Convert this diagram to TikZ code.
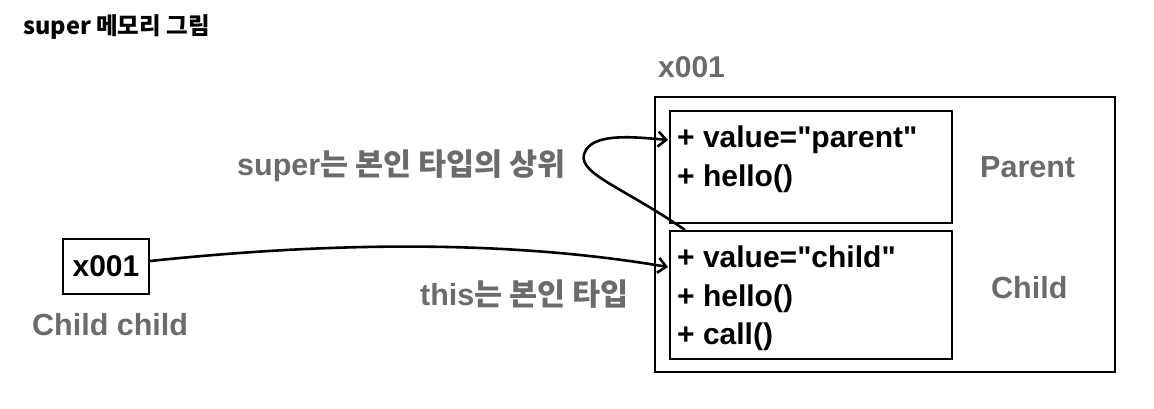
\documentclass[tikz,border=0pt]{standalone}
\usepackage{fontspec}
\setmainfont{Liberation Sans}[Ligatures=TeXOff]
\newfontfamily\kr{Noto Sans CJK KR}
\usetikzlibrary{arrows.meta,calc}
\definecolor{lblgray}{HTML}{6B6B6B}
\begin{document}
\begin{tikzpicture}[x=1pt,y=-1pt,
  box/.style={draw=black, line width=2pt, inner sep=0pt, anchor=north west},
  mem/.style={anchor=base west, inner sep=0pt, font=\fontsize{30}{30}\selectfont\bfseries, text=black},
  lbl/.style={anchor=base west, inner sep=0pt, font=\fontsize{30.5}{30.5}\selectfont\bfseries, text=lblgray},
  conn/.style={line width=2.6pt, -{Straight Barb[length=8pt,width=15pt]}}]
\useasboundingbox[fill=white] (0,0) rectangle (1154,408);
% title
\node[anchor=base west, inner sep=0pt, font=\kr\bfseries\fontsize{23.5}{23.5}\selectfont] (title) at (23,34) {super 메모리 그림};
% memory area
\node[lbl, font=\fontsize{30}{30}\selectfont\bfseries] (addr) at (658,77) {x001};
\node[box, minimum width=460pt, minimum height=275pt] (outer) at (654,96) {};
\node[box, minimum width=282pt, minimum height=112pt] (parent) at (669,110) {};
\node[box, minimum width=282pt, minimum height=128pt] (child) at (669,230) {};
\node[mem] (p1) at (677,147) {+ value="parent"};
\node[mem] (p2) at (677,186) {+ hello()};
\node[mem] (c1) at (677,267) {+ value="child"};
\node[mem] (c2) at (677,306) {+ hello()};
\node[mem] (c3) at (677,344) {+ call()};
\node[lbl] (plbl) at (980,177) {Parent};
\node[lbl] (clbl) at (991,298) {Child};
% reference
\node[box, minimum width=86pt, minimum height=55pt] (ref) at (62,238) {};
\node[font=\fontsize{30}{30}\selectfont\bfseries, inner sep=0pt] (reftxt) at (ref.center) {x001};
\node[lbl] (reflbl) at (32,335) {Child child};
% labels
\node[lbl] (superlbl) at (237,175) {super{\kr 는 본인 타입의 상위}};
\node[lbl] (thislbl) at (420,305) {this{\kr 는 본인 타입}};
% connectors
\coordinate (thisend) at ($(child.north west)+(-1,37)$);
\coordinate (superend) at ($(parent.north west)+(-1,30)$);
\coordinate (superstart) at ($(child.north west)+(16,0)$);
\coordinate (thisstart) at ($(ref.north east)+(0,23)$);
\draw[conn] (thisstart) .. controls (350,240) and (520,242) .. (thisend);
\draw[conn] (superstart) .. controls (620,185) and (572,172) .. (586,150) .. controls (596,133) and (635,137) .. (superend);
\end{tikzpicture}
\end{document}
